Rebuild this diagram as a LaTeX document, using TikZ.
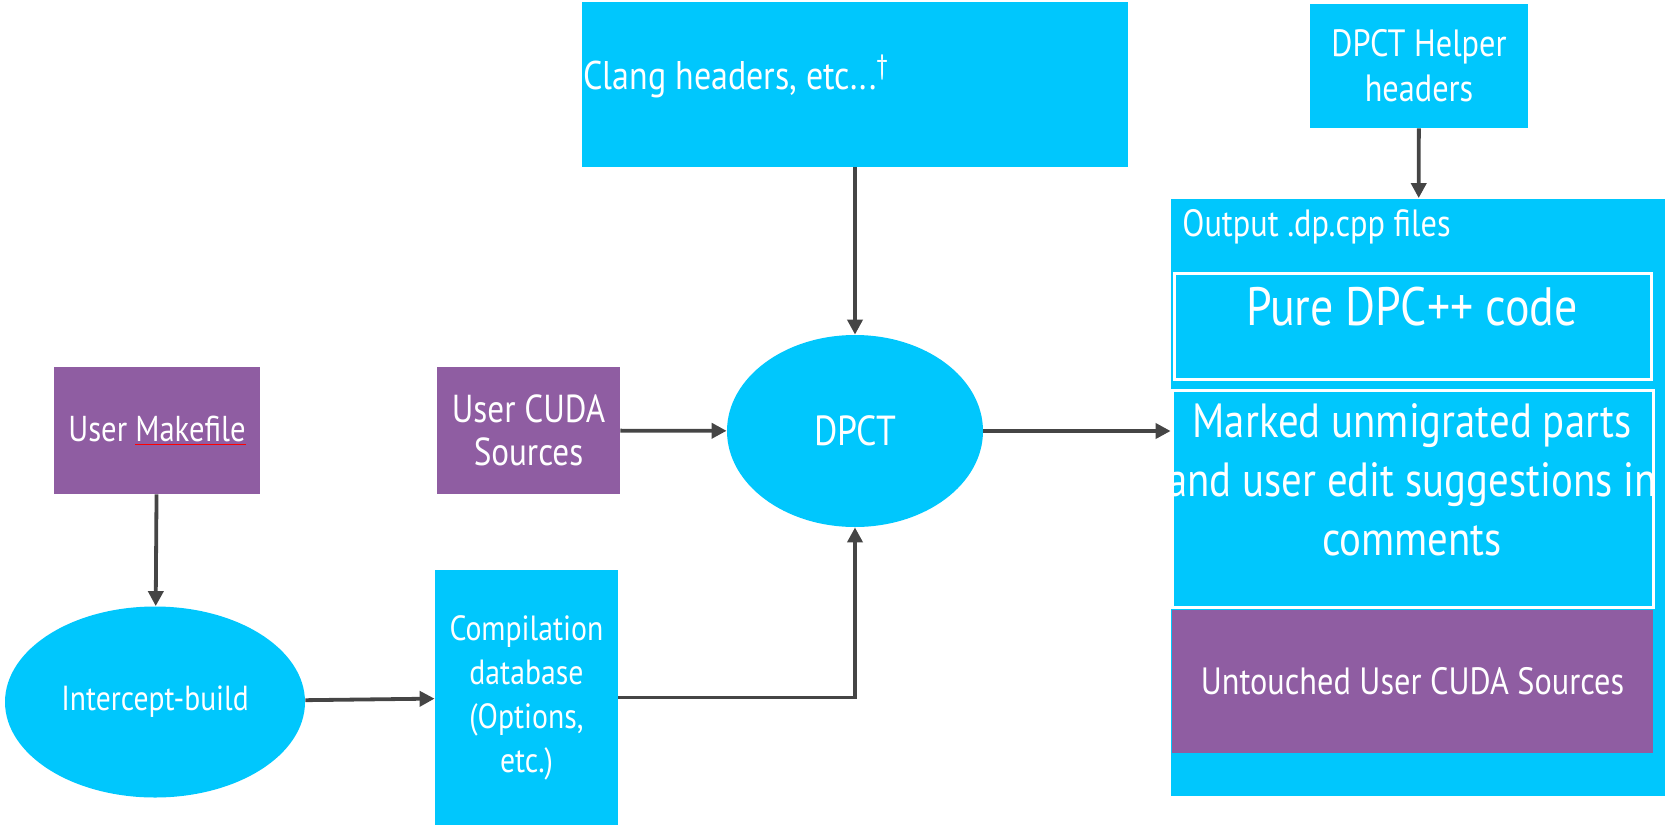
\documentclass[tikz,border=0pt]{standalone}
\usepackage{fontspec}
\setmainfont{PT Sans}[FakeStretch=0.85]
\usepackage{tikz}
\usetikzlibrary{arrows.meta, positioning, shapes.geometric}

\definecolor{dpblue}{HTML}{00C7FD}
\definecolor{dppurple}{HTML}{8F5DA2}
\definecolor{dparrow}{HTML}{454545}
\newcommand{\fs}[2]{\fontsize{#1}{#2}\selectfont}

\tikzset{
	bluebox/.style={rectangle, fill=dpblue, inner sep=0pt, text=white, align=center},
	purplebox/.style={rectangle, fill=dppurple, inner sep=0pt, text=white, align=center},
	blueoval/.style={ellipse, fill=dpblue, inner sep=0pt, text=white, align=center},
	framed/.style={draw=white, line width=1.5pt},
	plain/.style={inner sep=0pt, text=white, align=center},
	flow/.style={draw=dparrow, line width=1.9pt, -{Triangle[length=7.5pt,width=7.5pt]}}
}

\begin{document}
\begin{tikzpicture}[x=0.5pt, y=-0.5pt]
			\useasboundingbox (0,0) rectangle (1665,825);
			% top inputs
			\node [bluebox, minimum width=273pt, minimum height=82.5pt] (clang) at (855,84.5) {};
			\node [plain, anchor=west, font=\fs{20}{24}] (clangtxt) at (583,76) {Clang headers, etc...\textsuperscript{†}};
			\node [bluebox, minimum width=109pt, minimum height=62pt, font=\fs{19}{22.5}] (helper) at (1419,66) {DPCT Helper\\headers};
			% left side
			\node [purplebox, minimum width=103pt, minimum height=63.5pt, font=\fs{18}{22}] (makefile) at (157,430.5) {User {\color{red}\underline{\color{white}Makefile}}};
			\node [blueoval, minimum width=150pt, minimum height=95.5pt, font=\fs{17.4}{22}] (intercept) at (155,702) {Intercept-build};
			\node [purplebox, minimum width=91.5pt, minimum height=63.5pt, font=\fs{19.5}{21.5}] (cudasrc) at (528.5,430.5) {User CUDA\\Sources};
			\node [bluebox, minimum width=91.5pt, minimum height=127.5pt, font=\fs{17.5}{22}] (compdb) at (526.5,697.5) {Compilation\\database\\(Options,\\etc.)};
			\node [blueoval, minimum width=128pt, minimum height=96pt, font=\fs{21}{24}] (dpct) at (855,431) {DPCT};
			% output files
			\node [bluebox, minimum width=247pt, minimum height=298.5pt] (outbox) at (1418,497) {};
			\node [plain, anchor=west, font=\fs{19}{22}] (outtxt) at (1182,227) {Output .dp.cpp files};
			\node [bluebox, framed, minimum width=238.5pt, minimum height=53pt] (pure) at (1413,326) {};
			\node [plain, font=\fs{27}{30}] (puretxt) at (1412,307) {Pure DPC++ code};
			\node [bluebox, framed, minimum width=240.5pt, minimum height=108.5pt] (marked) at (1412.5,498.5) {};
			\node [plain, font=\fs{24}{29.5}] (markedtxt) at (1412,480) {Marked unmigrated parts\\and user edit suggestions in\\comments};
			\node [purplebox, minimum width=240.5pt, minimum height=71.5pt, font=\fs{19}{22}] (untouched) at (1412.5,681.5) {Untouched User CUDA Sources};
			% connectors
			\draw [flow] (makefile) to (intercept);
			\draw [flow] (intercept) to (compdb);
			\draw [flow] (cudasrc) to (dpct);
			\draw [flow] (compdb.east) -| (dpct.south);
			\draw [flow] (clang) to (dpct);
			\draw [flow] (helper) to (outbox);
			\draw [flow] (dpct.east) to (dpct.east -| outbox.west);
		\end{tikzpicture}
\end{document}
